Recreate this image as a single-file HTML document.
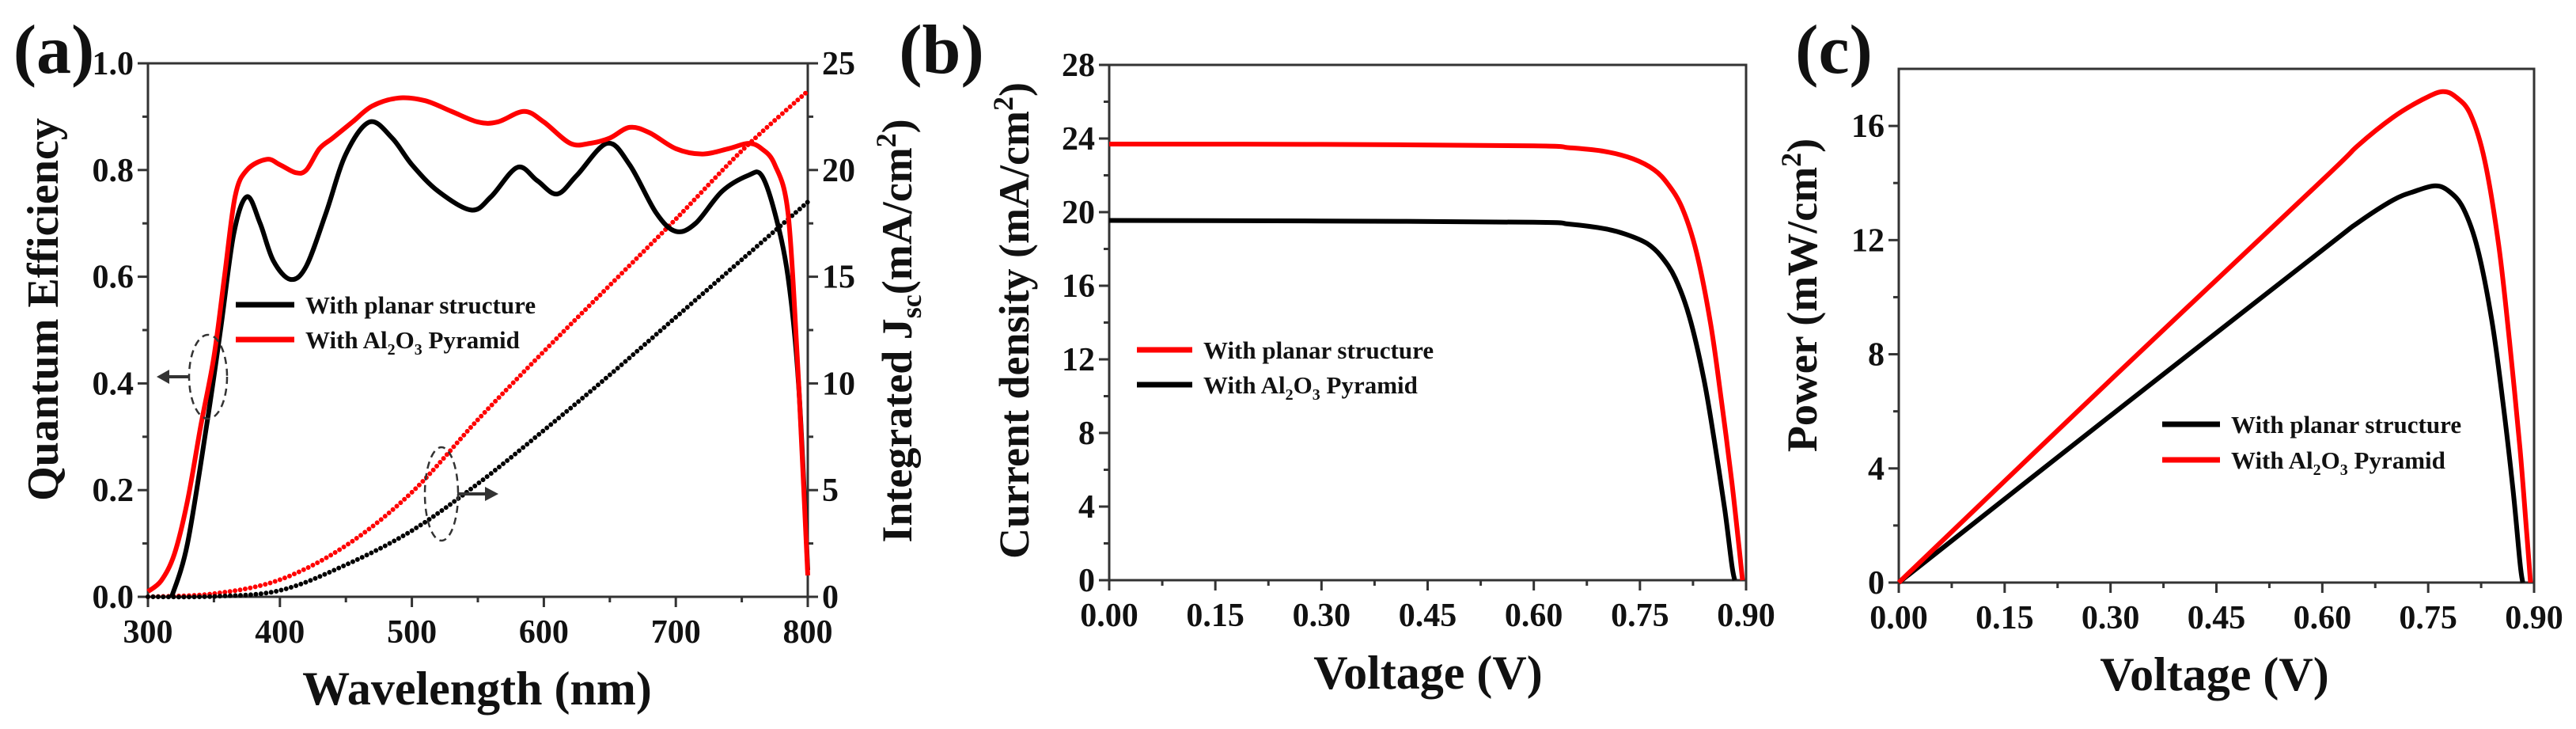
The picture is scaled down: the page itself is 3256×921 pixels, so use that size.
<!DOCTYPE html>
<html><head><meta charset="utf-8"><style>
html,body{margin:0;padding:0;background:#fff}
svg{display:block}
text{font-family:"Liberation Serif",serif;font-weight:bold;fill:#111}
</style></head><body>
<svg id="fig" width="3256" height="921" viewBox="0 0 3256 921" xmlns="http://www.w3.org/2000/svg"></svg>
<script>
// ---- Panel (a) data ----
const qeBlackX=[318,330,345,355,365,375,385,395,408,420,435,450,468,485,500,520,545,560,580,595,610,625,648,665,685,700,715,735,755,765,775,785,793,800];
const qeBlackY=[0,0.1,0.33,0.5,0.68,0.75,0.7,0.63,0.595,0.62,0.72,0.83,0.89,0.86,0.81,0.76,0.725,0.75,0.805,0.78,0.755,0.79,0.85,0.81,0.72,0.685,0.7,0.76,0.79,0.79,0.72,0.6,0.4,0.05];
const qeRedX=[300,310,320,330,340,350,358,366,375,390,400,412,420,430,440,455,470,490,510,530,550,565,585,600,620,635,650,665,680,700,720,740,755,765,775,785,792,797,800];
const qeRedY=[0.01,0.03,0.08,0.18,0.32,0.45,0.6,0.75,0.8,0.82,0.81,0.795,0.8,0.84,0.86,0.89,0.92,0.935,0.93,0.91,0.89,0.89,0.91,0.89,0.85,0.85,0.86,0.88,0.87,0.84,0.83,0.84,0.85,0.84,0.81,0.72,0.45,0.2,0.04];
const jscX=[300,350,400,450,500,550,600,650,700,750,800];
const jscRed=[0,0.15,0.8,2.4,4.9,8.3,11.5,14.6,17.7,20.9,23.7];
const jscBlack=[0,0.02,0.3,1.5,3.1,5.3,7.8,10.4,13.1,15.8,18.5];
const aXTicks=[300,400,500,600,700,800];
const aYTicks=[0,0.2,0.4,0.6,0.8,1.0];
const aY2Ticks=[0,5,10,15,20,25];
// ---- Panel (b) data ----
const jvRedV=[0,0.3,0.6,0.65,0.7,0.74,0.77,0.79,0.81,0.83,0.85,0.865,0.88,0.89,0.895];
const jvRedJ=[23.7,23.68,23.6,23.5,23.3,22.9,22.3,21.5,20.2,17.8,13.9,9.8,5.3,1.8,0];
const jvBlackV=[0,0.3,0.6,0.65,0.7,0.73,0.76,0.78,0.8,0.82,0.84,0.855,0.87,0.88,0.884];
const jvBlackJ=[19.55,19.52,19.45,19.35,19.1,18.8,18.3,17.6,16.4,14.3,11.0,7.6,3.8,0.8,0];
const vTicks=[0,0.15,0.3,0.45,0.6,0.75,0.9];
const bYTicks=[0,4,8,12,16,20,24,28];
// ---- Panel (c) data ----
const pRedV=[0,0.3,0.6,0.65,0.7,0.74,0.77,0.79,0.81,0.83,0.85,0.865,0.88,0.89,0.895];
const pRedP=[0,7.1,14.1,15.3,16.3,16.9,17.2,17.0,16.4,14.8,11.8,8.5,4.7,1.6,0];
const pBlackV=[0,0.3,0.6,0.65,0.7,0.73,0.76,0.78,0.8,0.82,0.84,0.855,0.87,0.88,0.884];
const pBlackP=[0,5.85,11.65,12.6,13.4,13.7,13.9,13.7,13.1,11.7,9.2,6.5,3.3,0.7,0];
const cYTicks=[0,4,8,12,16];

const NS="http://www.w3.org/2000/svg";
const svg=document.getElementById('fig');
function el(tag,attrs,parent){const e=document.createElementNS(NS,tag);for(const k in attrs)e.setAttribute(k,attrs[k]);(parent||svg).appendChild(e);return e;}
function lin(d0,d1,r0,r1){return v=>r0+(v-d0)/(d1-d0)*(r1-r0);}
function smoothPath(xs,ys,sx,sy){
  const p=xs.map((x,i)=>[sx(x),sy(ys[i])]);
  let d='M'+p[0][0].toFixed(1)+','+p[0][1].toFixed(1);
  for(let i=0;i<p.length-1;i++){
    const p0=p[Math.max(0,i-1)],p1=p[i],p2=p[i+1],p3=p[Math.min(p.length-1,i+2)];
    const c1=[p1[0]+(p2[0]-p0[0])/6,p1[1]+(p2[1]-p0[1])/6];
    const c2=[p2[0]-(p3[0]-p1[0])/6,p2[1]-(p3[1]-p1[1])/6];
    d+=' C'+c1[0].toFixed(1)+','+c1[1].toFixed(1)+' '+c2[0].toFixed(1)+','+c2[1].toFixed(1)+' '+p2[0].toFixed(1)+','+p2[1].toFixed(1);
  }
  return d;
}
function txt(s,x,y,size,anchor,g){const t=el('text',{x:x,y:y,'font-size':size,'text-anchor':anchor||'middle'},g);t.textContent=s;return t;}

function axes(g,L,R,T,B,sx,sy,xt,xminor,yt,yminor,xfmt,yfmt){
  el('rect',{x:L,y:T,width:R-L,height:B-T,fill:'none',stroke:'#333','stroke-width':3},g);
  const tg=el('g',{},g);
  
  
  xt.forEach(v=>{const x=sx(v);el('line',{x1:x,y1:B,x2:x,y2:B+13,stroke:'#333','stroke-width':3},tg);
    const t=txt(xfmt(v),x,B+58,42,'middle',tg);});
  xminor.forEach(v=>{const x=sx(v);el('line',{x1:x,y1:B,x2:x,y2:B+7,stroke:'#333','stroke-width':3},tg);});
  const yg=el('g',{},g);
  
  
  yt.forEach(v=>{const y=sy(v);el('line',{x1:L-13,y1:y,x2:L,y2:y,stroke:'#333','stroke-width':3},yg);
    const t=txt(yfmt(v),L-18,y+14,42,'end',yg);});
  yminor.forEach(v=>{const y=sy(v);el('line',{x1:L-7,y1:y,x2:L,y2:y,stroke:'#333','stroke-width':3},yg);});
}
function legendEntry(g,x1,x2,y,color,label,sub){
  const e=el('g',{},g);
  
  
  el('line',{x1:x1,y1:y,x2:x2,y2:y,stroke:color,'stroke-width':7},e);
  const t=el('text',{x:x2+14,y:y+11,'font-size':31,'text-anchor':'start'},e);
  if(sub){t.innerHTML='With Al<tspan font-size="20" dy="8">2</tspan><tspan dy="-8">O</tspan><tspan font-size="20" dy="8">3</tspan><tspan dy="-8"> Pyramid</tspan>';}
  else t.textContent=label;
}

// ===== Panel (a) =====
(function(){
  const g=el('g',{});
  
  
  const L=187,R=1021,T=80,B=754;
  const sx=lin(300,800,L,R),sy=lin(0,1,B,T),sy2=lin(0,25,B,T);
  axes(g,L,R,T,B,sx,sy,aXTicks,[350,450,550,650,750],aYTicks,[0.1,0.3,0.5,0.7,0.9],v=>String(v),v=>v.toFixed(1));
  aY2Ticks.forEach(v=>{const y=sy2(v);el('line',{x1:R,y1:y,x2:R+13,y2:y,stroke:'#333','stroke-width':3},g);
    const t=txt(String(v),R+18,y+14,42,'start',g);});
  [2.5,7.5,12.5,17.5,22.5].forEach(v=>{const y=sy2(v);el('line',{x1:R,y1:y,x2:R+7,y2:y,stroke:'#333','stroke-width':3},g);});
  const jr=el('path',{d:smoothPath(jscX,jscRed,sx,sy2),fill:'none',stroke:'#f00','stroke-width':6,'stroke-linecap':'round','stroke-dasharray':'0 6.5'},g);
  
  
  const jb=el('path',{d:smoothPath(jscX,jscBlack,sx,sy2),fill:'none',stroke:'#000','stroke-width':6,'stroke-linecap':'round','stroke-dasharray':'0 6.5'},g);
  
  
  const qb=el('path',{d:smoothPath(qeBlackX,qeBlackY,sx,sy),fill:'none',stroke:'#000','stroke-width':6},g);
  
  
  const qr=el('path',{d:smoothPath(qeRedX,qeRedY,sx,sy),fill:'none',stroke:'#f00','stroke-width':6},g);
  
  
  legendEntry(g,298,372,385,'#000','With planar structure');
  legendEntry(g,298,372,429,'#f00','',true);
  const e1=el('ellipse',{cx:263,cy:476,rx:24,ry:53,fill:'none',stroke:'#333','stroke-width':2.5,'stroke-dasharray':'9 6'},g);
  
  
  el('line',{x1:240,y1:476,x2:212,y2:476,stroke:'#333','stroke-width':4},g);
  el('polygon',{points:'198,476 214,467 214,485',fill:'#333'},g);
  const e2=el('ellipse',{cx:558,cy:624,rx:21,ry:59,fill:'none',stroke:'#333','stroke-width':2.5,'stroke-dasharray':'9 6'},g);
  
  
  el('line',{x1:578,y1:624,x2:614,y2:624,stroke:'#333','stroke-width':4},g);
  el('polygon',{points:'630,624 613,615 613,633',fill:'#333'},g);
  const pl=txt('(a)',68,92,88,'middle',g);
  const yl=txt('Quantum Efficiency',0,0,56,'middle',g);yl.setAttribute('transform','translate(73,391) rotate(-90)');
  
  const xl=txt('Wavelength (nm)',603,890,60,'middle',g);
  const y2=el('text',{'font-size':54,'text-anchor':'middle',transform:'translate(1152,418) rotate(-90)'},g);
  y2.innerHTML='Integrated J<tspan font-size="36" dy="12">sc</tspan><tspan dy="-12">(mA/cm</tspan><tspan font-size="36" dy="-20">2</tspan><tspan dy="20">)</tspan>';
  
})();

// ===== Panel (b) =====
(function(){
  const g=el('g',{});
  
  
  const L=1402,R=2207,T=82,B=733;
  const sx=lin(0,0.9,L,R),sy=lin(0,28,B,T);
  axes(g,L,R,T,B,sx,sy,vTicks,[0.075,0.225,0.375,0.525,0.675,0.825],bYTicks,[2,6,10,14,18,22,26],v=>v.toFixed(2),v=>String(v));
  const r=el('path',{d:smoothPath(jvRedV,jvRedJ,sx,sy),fill:'none',stroke:'#f00','stroke-width':6},g);
  
  const b=el('path',{d:smoothPath(jvBlackV,jvBlackJ,sx,sy),fill:'none',stroke:'#000','stroke-width':6},g);
  
  legendEntry(g,1437,1507,442,'#f00','With planar structure');
  legendEntry(g,1437,1507,486,'#000','',true);
  const pl=txt('(b)',1190,92,88,'middle',g);
  const yl=el('text',{'font-size':54,'text-anchor':'middle',transform:'translate(1300,405) rotate(-90)'},g);
  yl.innerHTML='Current density (mA/cm<tspan font-size="36" dy="-20">2</tspan><tspan dy="20">)</tspan>';
  
  const xl=txt('Voltage (V)',1805,870,60,'middle',g);
})();

// ===== Panel (c) =====
(function(){
  const g=el('g',{});
  
  
  const L=2400,R=3203,T=87,B=736;
  const sx=lin(0,0.9,L,R),sy=lin(0,18,B,T);
  axes(g,L,R,T,B,sx,sy,vTicks,[0.075,0.225,0.375,0.525,0.675,0.825],cYTicks,[2,6,10,14],v=>v.toFixed(2),v=>String(v));
  const b=el('path',{d:smoothPath(pBlackV,pBlackP,sx,sy),fill:'none',stroke:'#000','stroke-width':6},g);
  
  const r=el('path',{d:smoothPath(pRedV,pRedP,sx,sy),fill:'none',stroke:'#f00','stroke-width':6},g);
  
  legendEntry(g,2733,2806,536,'#000','With planar structure');
  legendEntry(g,2733,2806,581,'#f00','',true);
  const pl=txt('(c)',2318,92,88,'middle',g);
  const yl=el('text',{'font-size':54,'text-anchor':'middle',transform:'translate(2296,373) rotate(-90)'},g);
  yl.innerHTML='Power (mW/cm<tspan font-size="36" dy="-20">2</tspan><tspan dy="20">)</tspan>';
  
  const xl=txt('Voltage (V)',2799,872,60,'middle',g);
})();
</script>
</body></html>
